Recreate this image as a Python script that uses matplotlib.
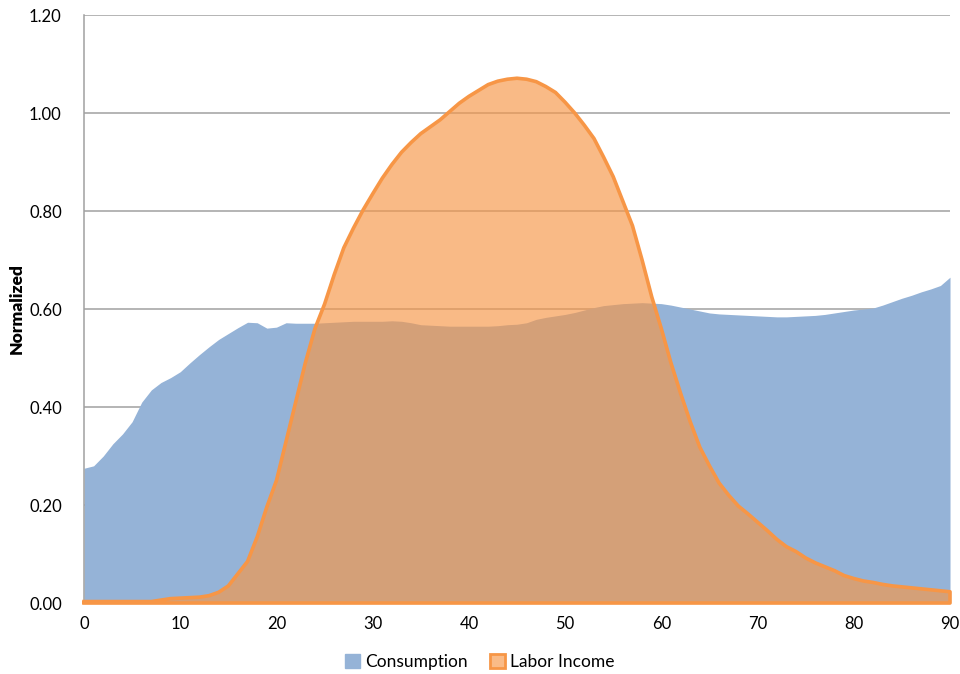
import matplotlib
matplotlib.use("Agg")
import matplotlib.pyplot as plt
from matplotlib.patches import Patch
import numpy as np

ages = list(range(0, 91))
consumption = [
    0.275, 0.28, 0.30, 0.325, 0.345, 0.37, 0.41, 0.435, 0.45, 0.46,
    0.472, 0.49, 0.507, 0.523, 0.538, 0.55, 0.562, 0.573, 0.572, 0.561,
    0.563, 0.572, 0.571, 0.571, 0.571, 0.572, 0.573, 0.574, 0.575, 0.575,
    0.575, 0.575, 0.576, 0.575, 0.572, 0.568, 0.567, 0.566, 0.565, 0.565,
    0.565, 0.565, 0.565, 0.566, 0.568, 0.569, 0.572, 0.579, 0.583, 0.586,
    0.589, 0.593, 0.598, 0.603, 0.607, 0.609, 0.611, 0.612, 0.613, 0.612,
    0.611, 0.608, 0.604, 0.600, 0.596, 0.592, 0.590, 0.589, 0.588, 0.587,
    0.586, 0.585, 0.584, 0.584, 0.585, 0.586, 0.587, 0.589, 0.592, 0.595,
    0.598, 0.600, 0.602, 0.608, 0.615, 0.622, 0.628, 0.635, 0.641, 0.648,
    0.665,
]
labor_income = [
    0.003, 0.003, 0.003, 0.003, 0.003, 0.003, 0.003, 0.003, 0.006, 0.009,
    0.010, 0.011, 0.012, 0.015, 0.022, 0.035, 0.06, 0.085, 0.135, 0.196,
    0.25, 0.33, 0.41, 0.49, 0.56, 0.61, 0.67, 0.725, 0.765, 0.802,
    0.835, 0.867, 0.895, 0.92, 0.94, 0.958, 0.972, 0.986, 1.003, 1.02,
    1.034, 1.046, 1.058, 1.065, 1.069, 1.071, 1.069, 1.064, 1.054, 1.042,
    1.022, 1.0, 0.975, 0.948, 0.91, 0.87, 0.82, 0.77, 0.70, 0.625,
    0.56, 0.49, 0.428, 0.37, 0.318, 0.28, 0.245, 0.22, 0.198, 0.182,
    0.165, 0.148, 0.13, 0.115, 0.105, 0.092, 0.082, 0.074, 0.066, 0.056,
    0.05, 0.045, 0.042, 0.038, 0.035, 0.033, 0.031, 0.029, 0.027, 0.025,
    0.023,
]
series_names = ["Consumption", "Labor Income"]
x_ticks = [0, 10, 20, 30, 40, 50, 60, 70, 80, 90]
y_ticks = [0.0, 0.2, 0.4, 0.6, 0.8, 1.0, 1.2]
y_label = "Normalized"

plt.rcParams['font.family'] = ['Lato', 'DejaVu Sans']

blue = "#95B3D7"
orange = "#F79646"

fig = plt.figure(figsize=(9.6, 6.74), dpi=100)
ax = fig.add_axes([0.0875, 0.1053, 0.9021, 0.8724])

ax.fill_between(ages, consumption, 0, color=blue, linewidth=0, zorder=2)
ax.fill_between(ages, labor_income, 0, facecolor=orange, alpha=0.65, linewidth=0, zorder=3)
# outline of the labor income area (line + baseline + right edge)
xs = list(ages) + [ages[-1], ages[0]]
ys = list(labor_income) + [0, 0]
ax.plot(xs, ys, color=orange, linewidth=2.6, solid_joinstyle='round', zorder=4, clip_on=False)

ax.set_xlim(0, 90)
ax.set_ylim(0, 1.2)
ax.set_xticks(x_ticks)
ax.set_yticks(y_ticks)
ax.set_yticklabels([f"{v:.2f}" for v in y_ticks])
ax.tick_params(axis='both', length=0, labelsize=12, colors="#000000")
ax.tick_params(axis='y', pad=16)
ax.tick_params(axis='x', pad=9)
ax.grid(axis='y', color="#A0A0A0", linewidth=1.1, zorder=1)
ax.set_axisbelow(True)
for s in ["top", "right", "bottom"]:
    ax.spines[s].set_visible(False)
ax.spines["left"].set_color("#A0A0A0")
ax.spines["left"].set_linewidth(1.1)

ax.set_ylabel(y_label, fontsize=12.5, fontweight='heavy')
ax.yaxis.set_label_coords(-0.068, 0.5)

handles = [
    Patch(facecolor=blue, edgecolor=blue, label=series_names[0]),
    Patch(facecolor="#FABB87", edgecolor=orange, linewidth=2, label=series_names[1]),
]
leg = fig.legend(handles=handles, loc='center', ncol=2,
                 bbox_to_anchor=(0.5, 1 - 662/674), bbox_transform=fig.transFigure,
                 frameon=False, fontsize=12.5, handlelength=0.85, handleheight=0.85,
                 handletextpad=0.3, columnspacing=1.3)

fig.savefig("out.png", dpi=100)
